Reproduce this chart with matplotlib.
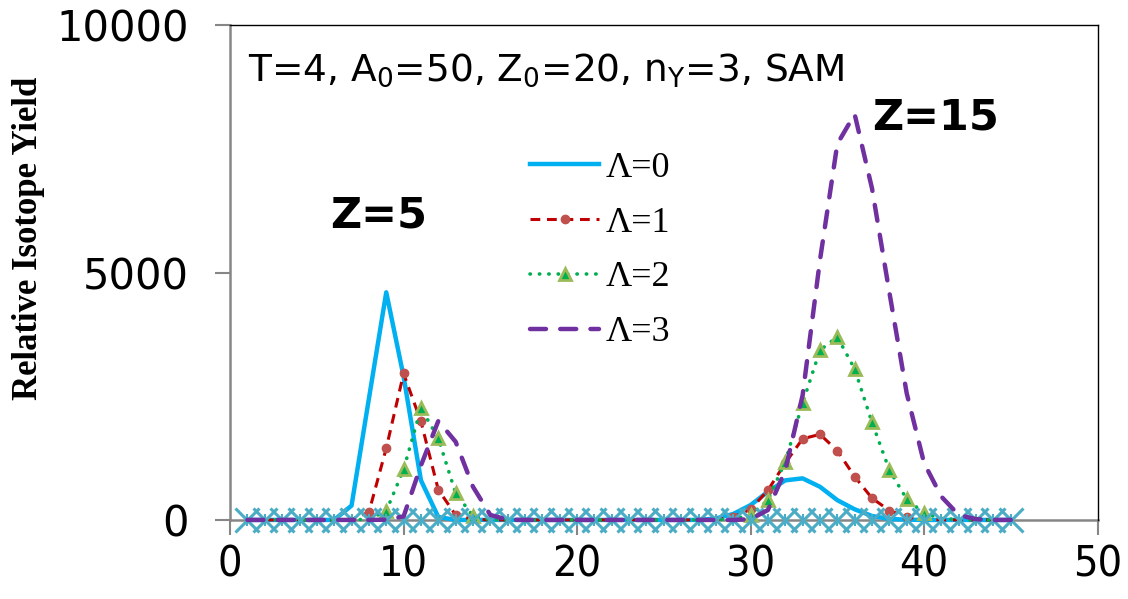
import numpy as np
import matplotlib.pyplot as plt

# mass number A of the isotope
A = list(range(1, 46))

# relative isotope yield for each Lambda
yield_L0 = [0, 0, 0, 0, 0, 0, 290, 2450, 4600, 2900, 800, 60, 0, 0, 0,
            0, 0, 0, 0, 0, 0, 0, 0, 0, 0, 0, 0, 30, 120, 300,
            570, 800, 840, 670, 400, 215, 80, 20, 5, 0, 0, 0, 0, 0, 0]
yield_L1 = [0, 0, 0, 0, 0, 0, 10, 155, 1450, 2960, 1990, 610, 100, 10, 0,
            0, 0, 0, 0, 0, 0, 0, 0, 0, 0, 0, 0, 10, 60, 215,
            600, 1150, 1640, 1730, 1400, 875, 440, 190, 60, 15, 0, 0, 0, 0, 0]
yield_L2 = [0, 0, 0, 0, 0, 0, 0, 15, 180, 1020, 2260, 1650, 540, 80, 5,
            0, 0, 0, 0, 0, 0, 0, 0, 0, 0, 0, 0, 0, 20, 100,
            400, 1180, 2360, 3430, 3700, 3050, 1970, 1010, 420, 135, 30, 5, 0, 0, 0]
yield_L3 = [0, 0, 0, 0, 0, 0, 0, 0, 5, 70, 1100, 2000, 1580, 670, 100,
            5, 0, 0, 0, 0, 0, 0, 0, 0, 0, 0, 0, 0, 0, 15,
            200, 1000, 2520, 5250, 7600, 8200, 6700, 4600, 2560, 1150, 470, 100, 15, 0, 0]
yield_base = [0] * len(A)

labels = ['\u039b=0', '\u039b=1', '\u039b=2', '\u039b=3']

plt.rcParams['mathtext.fontset'] = 'dejavusans'

fig = plt.figure(figsize=(11.28, 5.99), dpi=100)
ax = fig.add_axes([0.204, 0.132, 0.769, 0.826])

# markers at zero sit under the baseline stars, so only the others are drawn
nz1 = [i for i, v in enumerate(yield_L1) if v > 50]
nz2 = [i for i, v in enumerate(yield_L2) if v > 50]

ax.plot(A, yield_L0, color='#00B0F0', lw=3.2, label=labels[0], zorder=3,
        clip_on=False)
ax.plot(A, yield_L1, color='#C00000', lw=2.2, linestyle=(0, (3.2, 2.2)),
        marker='o', markersize=6, markerfacecolor='#C0504D', markevery=nz1,
        markeredgecolor='#C0504D', label=labels[1], zorder=4, clip_on=False)
ax.plot(A, yield_L2, color='#00B050', lw=2.6, linestyle=(0, (0.1, 2.5)),
        dash_capstyle='round', marker='^', markersize=8, markevery=nz2,
        markerfacecolor='#00B050', markeredgecolor='#9BBB59', markeredgewidth=2,
        label=labels[2], zorder=5, clip_on=False)

# baseline series with star markers (not in the legend)
ax.plot(A, yield_base, linestyle='none', marker='x', markersize=17,
        markeredgewidth=2.2, color='#4BACC6', zorder=6, clip_on=False)
ax.plot(A, yield_base, linestyle='none', marker='|', markersize=9,
        markeredgewidth=1.5, color='#4BACC6', zorder=6, clip_on=False)

ax.plot(A, yield_L3, color='#7030A0', lw=3.2, linestyle=(0, (3.6, 3.2)),
        dash_capstyle='round', label=labels[3], zorder=7, clip_on=False)

ax.set_xlim(0, 50)
ax.set_ylim(0, 10000)
ax.set_xticks([0, 10, 20, 30, 40, 50])
ax.set_yticks([0, 5000, 10000])

for s in ['left', 'bottom']:
    ax.spines[s].set_color('#868686')
    ax.spines[s].set_linewidth(1.8)
    ax.spines[s].set_zorder(1)
for s in ['top', 'right']:
    ax.spines[s].set_color('black')
    ax.spines[s].set_linewidth(1.0)

ax.tick_params(axis='both', direction='out', length=11, width=1.5,
               color='#868686')
ax.tick_params(axis='y', labelsize=30, pad=19)
ax.tick_params(axis='x', labelsize=31, pad=6)
for lab in ax.get_xticklabels():
    lab.set_fontstretch('condensed')

ax.set_ylabel('Relative Isotope Yield', fontsize=25, fontweight='bold',
              family='Liberation Serif')
ax.yaxis.set_label_coords(-0.213, 0.57)

ax.text(0.021, 0.909, 'T=4, A$_0$=50, Z$_0$=20, n$_\\mathregular{Y}$=3, SAM',
        transform=ax.transAxes, fontsize=27, va='center', ha='left')
ax.text(0.115, 0.616, 'Z=5', transform=ax.transAxes, fontsize=31,
        fontweight='bold', va='center', ha='left')
ax.text(0.74, 0.814, 'Z=15', transform=ax.transAxes, fontsize=31,
        fontweight='bold', va='center', ha='left')

leg = ax.legend(loc='upper left', bbox_to_anchor=(0.346, 0.745), frameon=False,
                prop={'family': 'Liberation Serif', 'size': 26},
                handlelength=1.9, labelspacing=0.6, handletextpad=0.2,
                borderaxespad=0, borderpad=0)

fig.savefig('out.png', dpi=100)
